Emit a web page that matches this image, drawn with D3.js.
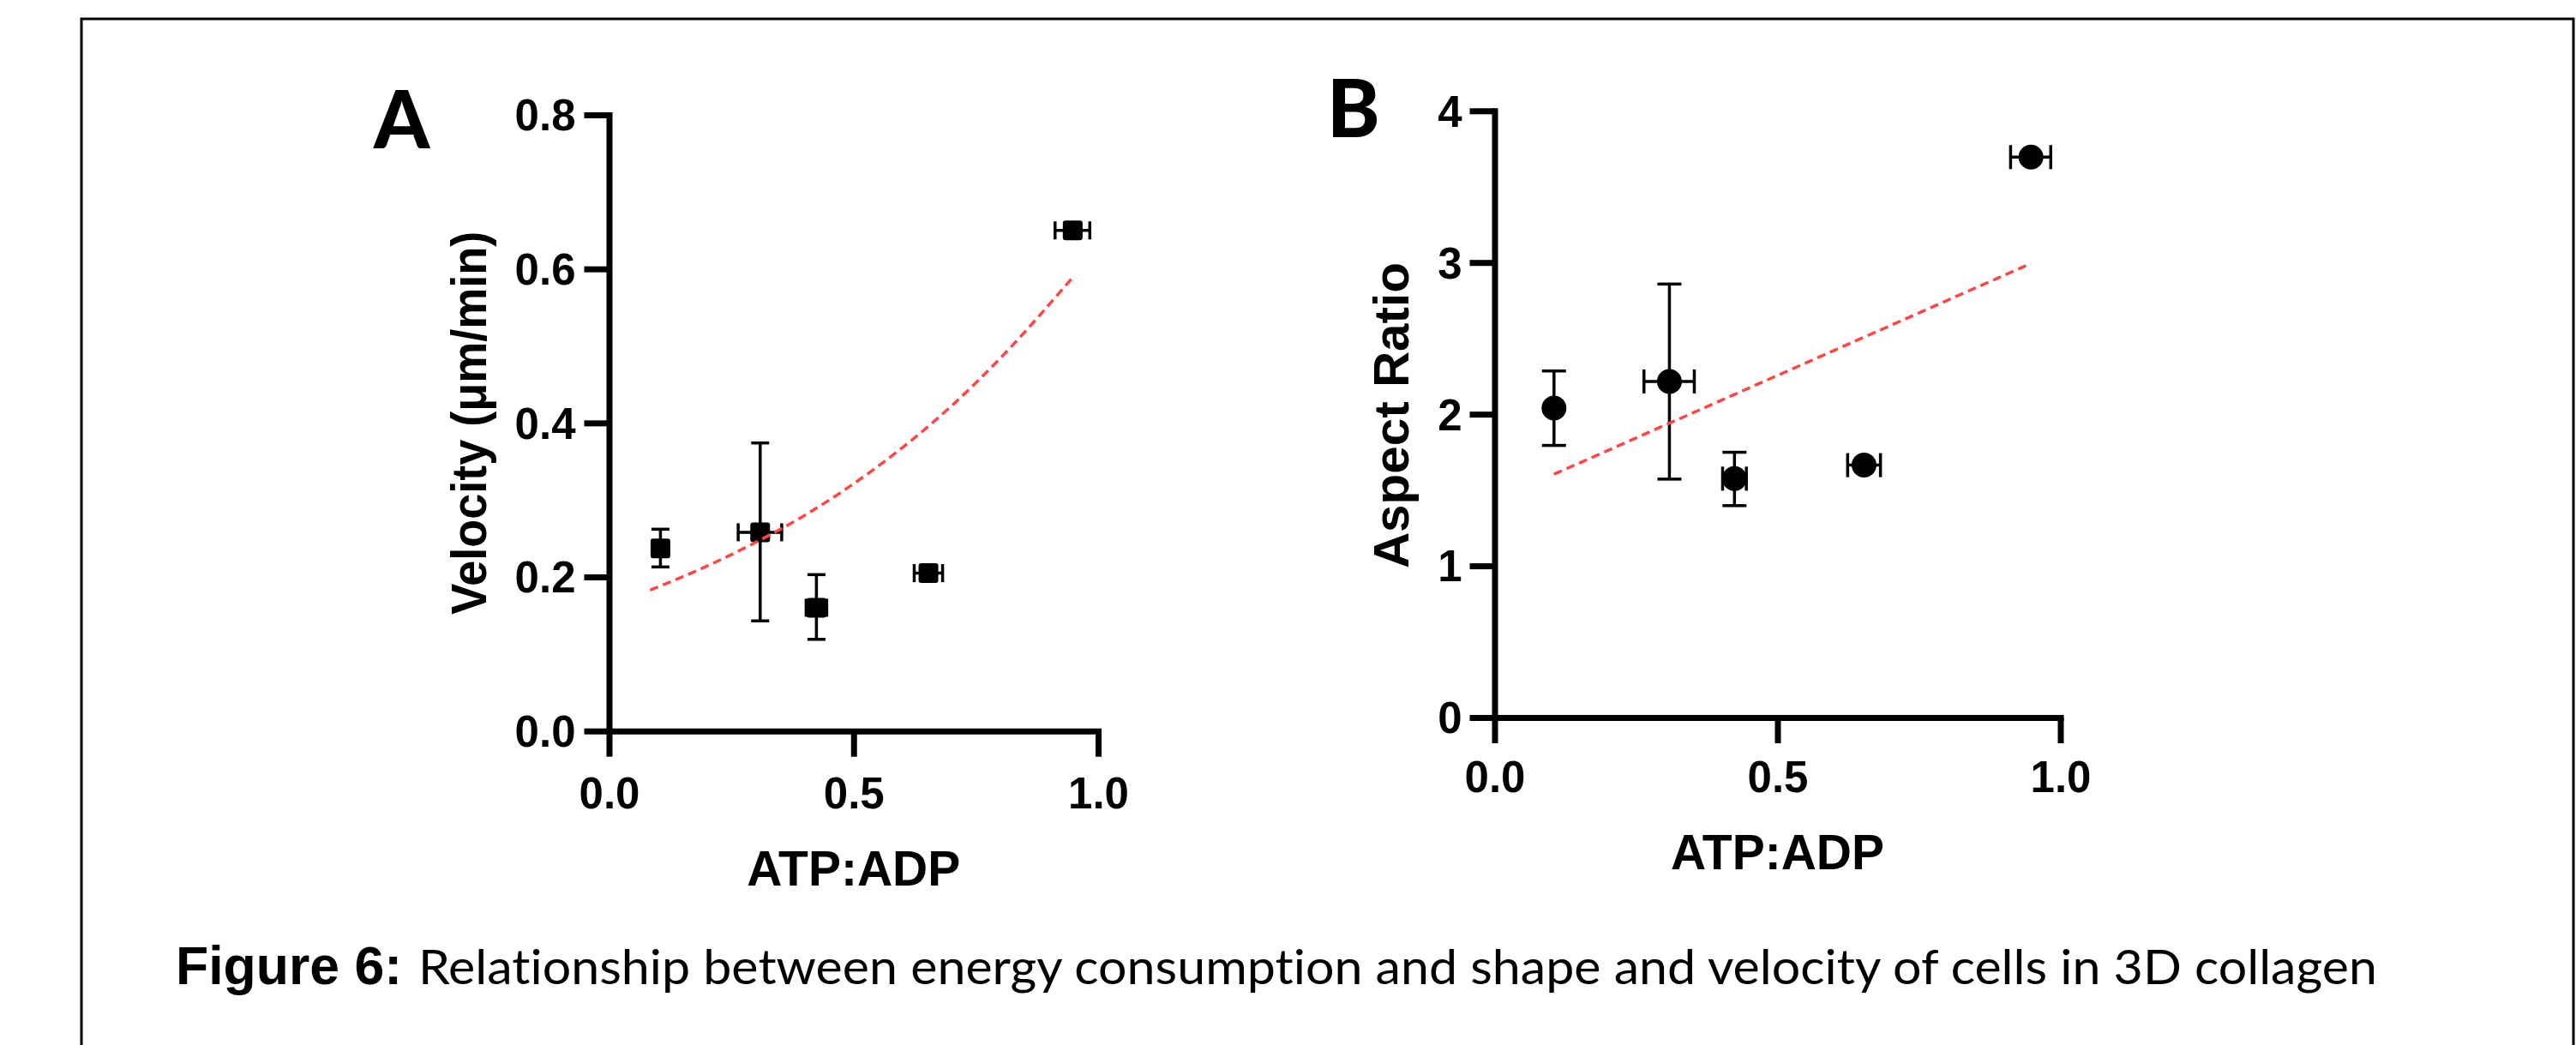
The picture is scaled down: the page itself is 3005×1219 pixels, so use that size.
<!DOCTYPE html>
<html>
<head>
<meta charset="utf-8">
<script src="https://cdn.jsdelivr.net/npm/d3@7"></script>
<style>
  html, body { margin: 0; padding: 0; background: #fff; }
  svg { display: block; }
  text { font-variant-ligatures: none; font-feature-settings: "liga" 0, "clig" 0; }
</style>
</head>
<body>
<svg id="fig" width="3005" height="1219"></svg>
<script>
// ---- data ----
const atpAdp      = [0.105, 0.309, 0.424, 0.653, 0.948];
const atpAdpLow   = [0.105, 0.264, 0.403, 0.624, 0.912];
const atpAdpHigh  = [0.105, 0.353, 0.445, 0.682, 0.983];

const velocity     = [0.237, 0.258, 0.160, 0.205, 0.650];
const velocityLow  = [0.213, 0.143, 0.119, 0.205, 0.650];
const velocityHigh = [0.262, 0.374, 0.203, 0.205, 0.650];

const aspectRatio     = [2.041, 2.216, 1.575, 1.664, 3.695];
const aspectRatioLow  = [1.794, 1.572, 1.397, 1.664, 3.695];
const aspectRatioHigh = [2.285, 2.858, 1.749, 1.664, 3.695];

const fitVelX = [0.084, 0.2, 0.3, 0.4, 0.5, 0.6, 0.7, 0.8, 0.948];
const fitVelY = [0.183, 0.214, 0.245, 0.280, 0.321, 0.368, 0.422, 0.484, 0.589];
const fitAspX = [0.105, 0.948];
const fitAspY = [1.604, 2.994];

const xTicks = [0, 0.5, 1.0];
const velTicks = [0, 0.2, 0.4, 0.6, 0.8];
const aspTicks = [0, 1, 2, 3, 4];

const xLabel = "ATP:ADP";
const velLabel = "Velocity (\u03bcm/min)";
const aspLabel = "Aspect Ratio";
const captionBold = "Figure 6:";
const captionText = "Relationship between energy consumption and shape and velocity of cells in 3D collagen";

// ---- drawing ----
const svg = d3.select("#fig");
const ARIAL = "'Liberation Sans', Arial, sans-serif";
const RED = "#ff4646";

// frame
svg.append("path")
  .attr("d", "M95,1219 V22 H3002 V1219")
  .attr("fill", "none").attr("stroke", "#000").attr("stroke-width", 3);

function panel(opts) {
  const g = svg.append("g");
  const x = d3.scaleLinear().domain([0, 1]).range(opts.xRange);
  const y = d3.scaleLinear().domain(opts.yDomain).range(opts.yRange);

  // axes
  const yAxis = d3.axisLeft(y).tickValues(opts.yTicks).tickSize(29).tickSizeOuter(0)
    .tickPadding(opts.yPad).tickFormat(opts.yFmt);
  const xAxis = d3.axisBottom(x).tickValues(xTicks).tickSize(30).tickSizeOuter(0)
    .tickPadding(opts.xPad).tickFormat(d3.format(".1f"));

  const ya = g.append("g").attr("transform", `translate(${opts.xRange[0]},0)`).call(yAxis);
  const xa = g.append("g").attr("transform", `translate(0,${opts.yRange[0]})`).call(xAxis);
  [ya, xa].forEach(a => {
    a.select(".domain").attr("stroke", "#000").attr("stroke-width", 7).attr("stroke-linecap", "square");
    a.selectAll(".tick line").attr("stroke", "#000").attr("stroke-width", 7);
    a.selectAll(".tick text").attr("fill", "#000")
      .style("font-family", ARIAL).style("font-weight", "bold").style("font-size", "51px");
  });
  ya.selectAll(".tick text").attr("dy", "0.35em");
  xa.selectAll(".tick text").attr("dy", "0.71em");

  // axis titles
  g.append("text")
    .attr("x", (opts.xRange[0] + opts.xRange[1]) / 2).attr("y", opts.xTitleY)
    .attr("text-anchor", "middle")
    .style("font-family", ARIAL).style("font-weight", "bold").style("font-size", "57px")
    .text(xLabel);
  g.append("text")
    .attr("transform", `translate(${opts.yTitleX},${opts.yTitleCY}) rotate(-90)`)
    .attr("text-anchor", "middle")
    .attr("textLength", opts.yTitleLen).attr("lengthAdjust", "spacingAndGlyphs")
    .style("font-family", ARIAL).style("font-weight", "bold").style("font-size", opts.yTitleSize + "px")
    .text(opts.yTitle);

  // panel letter
  g.append("text")
    .attr("x", opts.letterX).attr("y", opts.letterY)
    .style("font-family", "Lato, 'Open Sans', sans-serif").style("font-weight", 900).style("font-size", "93px")
    .text(opts.letter);

  // error bars
  const eb = g.append("g").attr("stroke", "#000").attr("stroke-width", 3.5).attr("fill", "none");
  const vals = opts.values;
  vals.forEach((v, i) => {
    const cx = x(atpAdp[i]), cy = y(v);
    const lo = opts.low[i], hi = opts.high[i];
    const cw = opts.capW / 2;
    if (hi > lo) {
      eb.append("line").attr("x1", cx).attr("x2", cx).attr("y1", y(lo)).attr("y2", y(hi));
      eb.append("line").attr("x1", cx - cw).attr("x2", cx + cw).attr("y1", y(lo)).attr("y2", y(lo));
      eb.append("line").attr("x1", cx - cw).attr("x2", cx + cw).attr("y1", y(hi)).attr("y2", y(hi));
    }
    const xl = atpAdpLow[i], xh = atpAdpHigh[i];
    if (xh > xl) {
      eb.append("line").attr("x1", x(xl)).attr("x2", x(xh)).attr("y1", cy).attr("y2", cy);
      eb.append("line").attr("x1", x(xl)).attr("x2", x(xl)).attr("y1", cy - cw).attr("y2", cy + cw);
      eb.append("line").attr("x1", x(xh)).attr("x2", x(xh)).attr("y1", cy - cw).attr("y2", cy + cw);
    }
  });

  // markers
  const mk = g.append("g").attr("fill", "#000");
  if (opts.shape === "square") {
    mk.selectAll("rect").data(vals).join("rect")
      .attr("x", (d, i) => x(atpAdp[i]) - 11.5).attr("y", d => y(d) - 11.5)
      .attr("width", 23).attr("height", 23).attr("rx", 3);
  } else {
    mk.selectAll("circle").data(vals).join("circle")
      .attr("cx", (d, i) => x(atpAdp[i])).attr("cy", d => y(d)).attr("r", 14.5);
  }

  // fit line
  const line = d3.line().x(d => x(d[0])).y(d => y(d[1])).curve(d3.curveMonotoneX);
  g.append("path")
    .attr("d", line(opts.fitX.map((fx, i) => [fx, opts.fitY[i]])))
    .attr("fill", "none").attr("stroke", RED).attr("stroke-width", 3.5)
    .attr("stroke-dasharray", "10,6");
}

panel({
  letter: "A", letterX: 436, letterY: 173,
  xRange: [710.5, 1281], yDomain: [0, 0.8], yRange: [852.7, 134],
  yTicks: velTicks, yFmt: d3.format(".1f"), yPad: 10, xPad: 24,
  xTitleY: 1033, yTitleX: 566.7, yTitleCY: 493.3, yTitleLen: 447, yTitleSize: 57,
  yTitle: velLabel,
  values: velocity, low: velocityLow, high: velocityHigh, capW: 21, shape: "square",
  fitX: fitVelX, fitY: fitVelY
});

panel({
  letter: "B", letterX: 1548, letterY: 160,
  xRange: [1743.5, 2403.5], yDomain: [0, 4], yRange: [837, 129.3],
  yTicks: aspTicks, yFmt: d3.format("d"), yPad: 9, xPad: 21,
  xTitleY: 1014, yTitleX: 1643, yTitleCY: 484.6, yTitleLen: 357, yTitleSize: 58,
  yTitle: aspLabel,
  values: aspectRatio, low: aspectRatioLow, high: aspectRatioHigh, capW: 28, shape: "circle",
  fitX: fitAspX, fitY: fitAspY
});

// caption
svg.append("text")
  .attr("x", 205).attr("y", 1148)
  .attr("textLength", 264).attr("lengthAdjust", "spacingAndGlyphs")
  .style("font-family", ARIAL).style("font-weight", "bold").style("font-size", "62.6px")
  .text(captionBold);
svg.append("text")
  .attr("x", 488).attr("y", 1148)
  .attr("textLength", 2285).attr("lengthAdjust", "spacingAndGlyphs")
  .style("font-family", "Lato, 'Open Sans', sans-serif").style("font-size", "57px")
  .text(captionText);
</script>
</body>
</html>
